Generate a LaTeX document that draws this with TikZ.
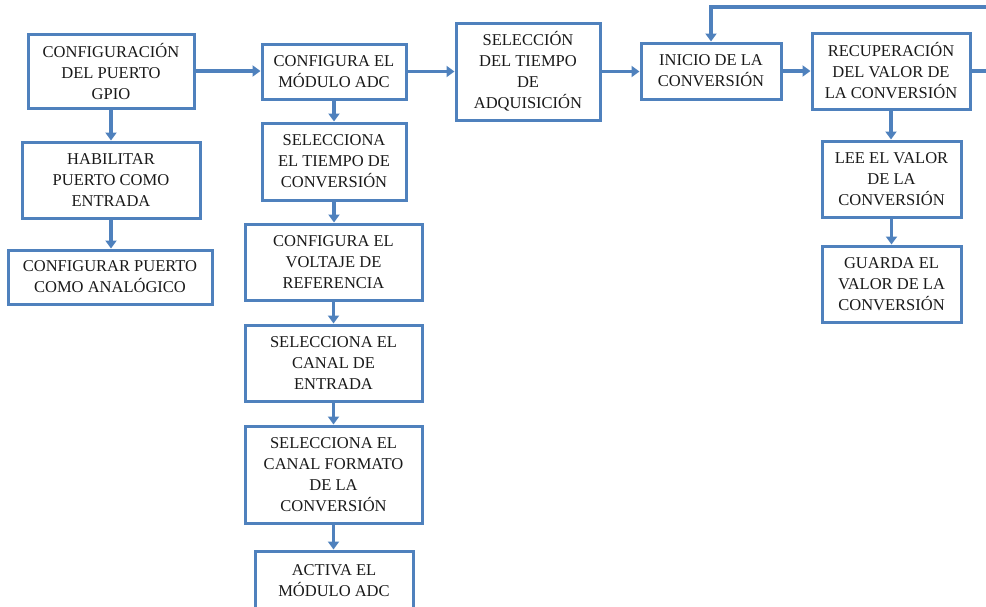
\documentclass[tikz,border=0pt]{standalone}
\usepackage{fontspec}
\setmainfont{Liberation Serif}
\usetikzlibrary{arrows.meta}
\definecolor{bl}{RGB}{79,129,189}
\tikzset{
  box/.style={draw=bl, line width=3pt, fill=white, align=center, inner sep=1pt,
    font={\fontsize{16.5}{21}\selectfont}, text=black!90},
  arr/.style={draw=bl, line width=3.5pt, -{Triangle[length=8pt,width=11pt]}},
  ln/.style={draw=bl, line width=3.5pt}
}
\begin{document}
\begin{tikzpicture}[x=1pt,y=-1pt]
\useasboundingbox (0,0) rectangle (986,606);
\clip (0,0) rectangle (986,606);
\node[box, minimum width=166pt, minimum height=74pt] (gpio) at (111,71) {CONFIGURACIÓN\\DEL PUERTO\\GPIO};
\node[box, minimum width=178pt, minimum height=76pt] (hab) at (111,180) {HABILITAR\\PUERTO COMO\\ENTRADA};
\node[box, minimum width=204pt, minimum height=54pt] (ana) at (110,277) {CONFIGURAR PUERTO\\COMO ANALÓGICO};
\node[box, minimum width=144pt, minimum height=55pt] (adc) at (334,71.5) {CONFIGURA EL\\MÓDULO ADC};
\node[box, minimum width=144pt, minimum height=77pt] (tconv) at (334,161.5) {SELECCIONA\\EL TIEMPO DE\\CONVERSIÓN};
\node[box, minimum width=177pt, minimum height=76pt] (volt) at (333.5,262) {CONFIGURA EL\\VOLTAJE DE\\REFERENCIA};
\node[box, minimum width=177pt, minimum height=76pt] (canal) at (333.5,363) {SELECCIONA EL\\CANAL DE\\ENTRADA};
\node[box, minimum width=177pt, minimum height=97pt] (fmt) at (333.5,474.5) {SELECCIONA EL\\CANAL FORMATO\\DE LA\\CONVERSIÓN};
\node[box, minimum width=158pt, minimum height=60pt] (act) at (334,581) {ACTIVA EL\\MÓDULO ADC};
\node[box, minimum width=144pt, minimum height=97pt] (adq) at (528,71.5) {SELECCIÓN\\DEL TIEMPO\\DE\\ADQUISICIÓN};
\node[box, minimum width=140pt, minimum height=56pt] (ini) at (711,71) {INICIO DE LA\\CONVERSIÓN};
\node[box, minimum width=158pt, minimum height=76pt] (rec) at (891,71) {RECUPERACIÓN\\DEL VALOR DE\\LA CONVERSIÓN};
\node[box, minimum width=139pt, minimum height=76pt] (lee) at (891.5,179) {LEE EL VALOR\\DE LA\\CONVERSIÓN};
\node[box, minimum width=139pt, minimum height=76pt] (gua) at (891.5,284) {GUARDA EL\\VALOR DE LA\\CONVERSIÓN};
\coordinate (topR) at (990,7);
\coordinate (topL) at (711,7);
\coordinate (outR) at (990,71);
% horizontal chain
\draw[arr] (gpio.east) -- (adc.west |- gpio.east);
\draw[arr] (adc.east) -- (adq.west |- adc.east);
\draw[arr] (adq.east) -- (ini.west |- adq.east);
\draw[arr] (ini.east) -- (rec.west |- ini.east);
% vertical chains
\draw[arr] (gpio.south) -- (hab.north);
\draw[arr] (hab.south) -- (ana.north -| hab.south);
\draw[arr] (adc.south) -- (tconv.north);
\draw[arr] (tconv.south) -- (volt.north -| tconv.south);
\draw[arr] (volt.south) -- (canal.north);
\draw[arr] (canal.south) -- (fmt.north);
\draw[arr] (fmt.south) -- (act.north -| fmt.south);
\draw[arr] (rec.south) -- (lee.north -| rec.south);
\draw[arr] (lee.south) -- (gua.north);
% feedback lines
\draw[arr] (topR) -- (topL) -- (ini.north);
\draw[ln] (rec.east) -- (outR);
\end{tikzpicture}
\end{document}
